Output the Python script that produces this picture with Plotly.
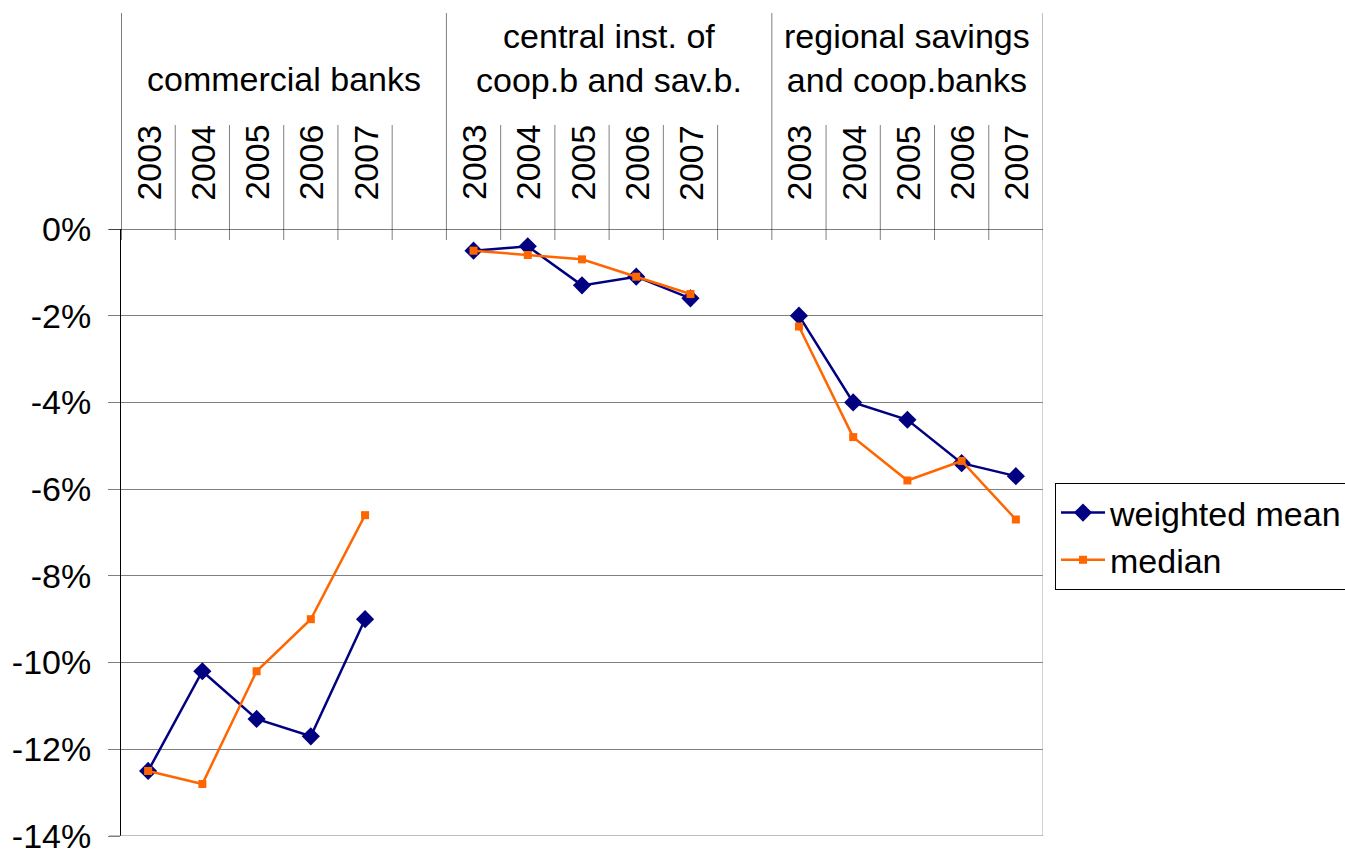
import plotly.graph_objects as go

# Bank groups, years and the two series (in %)
groups = ["commercial banks", "central inst. of<br>coop.b and sav.b.", "regional savings<br>and coop.banks"]
years = ["2003", "2004", "2005", "2006", "2007"]
slots_per_group = [6, 6, 5]  # the first two groups carry one empty slot after 2007

weighted_commercial = [-12.5, -10.2, -11.3, -11.7, -9.0]
weighted_central = [-0.5, -0.4, -1.3, -1.1, -1.6]
weighted_regional = [-2.0, -4.0, -4.4, -5.4, -5.7]

median_commercial = [-12.5, -12.8, -10.2, -9.0, -6.6]
median_central = [-0.5, -0.6, -0.7, -1.1, -1.5]
median_regional = [-2.25, -4.8, -5.8, -5.35, -6.7]

y_ticks = [0, -2, -4, -6, -8, -10, -12, -14]
y_tick_text = ["0%", "-2%", "-4%", "-6%", "-8%", "-10%", "-12%", "-14%"]

FONT = "Liberation Sans, Arial, sans-serif"
FS = 34

# slot positions along the category axis
group_starts = []
s = 0
for n in slots_per_group:
    group_starts.append(s)
    s += n
n_slots = s


def series(parts):
    xs, ys = [], []
    for g, vals in enumerate(parts):
        for i, v in enumerate(vals):
            xs.append(group_starts[g] + i + 0.5)
            ys.append(v)
        xs.append(None)
        ys.append(None)
    return xs, ys


wx, wy = series([weighted_commercial, weighted_central, weighted_regional])
mx, my = series([median_commercial, median_central, median_regional])

fig = go.Figure()
fig.add_trace(go.Scatter(
    x=wx, y=wy, name="weighted mean", mode="lines+markers",
    line=dict(color="#000080", width=2.5),
    marker=dict(symbol="diamond", size=14, color="#000080"),
    connectgaps=False, cliponaxis=False,
))
fig.add_trace(go.Scatter(
    x=mx, y=my, name="median", mode="lines+markers",
    line=dict(color="#FF6600", width=2.5),
    marker=dict(symbol="square", size=8, color="#FF6600"),
    connectgaps=False, cliponaxis=False,
))

# plot area geometry in pixels (for paper-coordinate conversions)
W, H = 1345, 851
L, R, T, B = 121, 302, 229, 15
ph = H - T - B
pw = W - L - R


def py(px_y):
    return (H - B - px_y) / ph


def pxx(px_x):
    return (px_x - L) / pw


shapes = []
GRAY = "#808080"
# group dividers across the header
for g, start in enumerate(group_starts + [n_slots]):
    col = "black" if start == 0 else GRAY
    shapes.append(dict(type="line", xref="x", yref="paper", x0=start, x1=start,
                       y0=py(240), y1=py(13), line=dict(color=col, width=1)))
# year separators
for g, start in enumerate(group_starts):
    for k in range(1, slots_per_group[g]):
        shapes.append(dict(type="line", xref="x", yref="paper", x0=start + k, x1=start + k,
                           y0=py(240), y1=py(125), line=dict(color=GRAY, width=1)))
# right border of the plot area
shapes.append(dict(type="line", xref="x", yref="paper", x0=n_slots, x1=n_slots,
                   y0=0, y1=py(240), line=dict(color="#a6a6a6", width=1)))
# 0% line with its tick extension
shapes.append(dict(type="line", xref="paper", yref="y", x0=pxx(109), x1=1, y0=0, y1=0,
                   line=dict(color="black", width=1)))
# bottom line with its tick extension
shapes.append(dict(type="line", xref="paper", yref="y", x0=pxx(109), x1=1, y0=-14, y1=-14,
                   line=dict(color=GRAY, width=1)))

annotations = []
for g, name in enumerate(groups):
    cx = group_starts[g] + slots_per_group[g] / 2
    yc = py(79) if "<br>" not in name else py(58)
    annotations.append(dict(x=cx, y=yc, xref="x", yref="paper", text=name, showarrow=False,
                            font=dict(family=FONT, size=FS, color="black"),
                            xanchor="center", yanchor="middle"))
    for i, yr in enumerate(years):
        annotations.append(dict(x=group_starts[g] + i + 0.5, y=py(162.5), xref="x", yref="paper",
                                text=yr, textangle=-90, showarrow=False,
                                font=dict(family=FONT, size=FS, color="black"),
                                xanchor="center", yanchor="middle"))

fig.update_layout(
    width=W, height=H,
    margin=dict(l=L, r=R, t=T, b=B, pad=0, autoexpand=False),
    paper_bgcolor="white", plot_bgcolor="white",
    font=dict(family=FONT, size=FS, color="black"),
    shapes=shapes, annotations=annotations,
    showlegend=True,
    legend=dict(x=pxx(1055), y=py(483), xanchor="left", yanchor="top",
                bordercolor="black", borderwidth=1, bgcolor="white",
                font=dict(family=FONT, size=FS, color="black"),
                tracegroupgap=0, itemwidth=44),
    xaxis=dict(range=[0, n_slots], showgrid=False, zeroline=False, showticklabels=False,
               ticks="", showline=False, fixedrange=True),
    yaxis=dict(range=[-14, 0], tickvals=y_ticks, ticktext=y_tick_text,
               showgrid=True, gridcolor=GRAY, gridwidth=1, zeroline=False,
               showline=True, linecolor="black", linewidth=1,
               ticks="outside", ticklen=12, tickcolor=GRAY, tickwidth=1,
               ticklabelstandoff=10, ticklabeloverflow="allow",
               tickfont=dict(family=FONT, size=FS, color="black"), fixedrange=True),
)

fig.write_html("out.html")
